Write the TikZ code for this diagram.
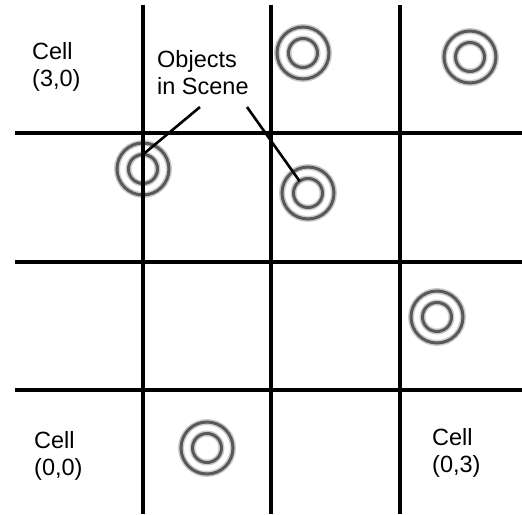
\documentclass[tikz,border=0pt]{standalone}
\usepackage{fontspec}
\setmainfont{Liberation Sans}

\begin{document}
\begin{tikzpicture}[x=1pt, y=-1pt,
	cellnote/.style={font=\fontsize{23.5}{27.5}\selectfont, align=left, inner sep=0pt, anchor=north west},
	ring/.style={circle, draw=black!65, line width=3pt, minimum size=29pt, inner sep=0pt, outer sep=0pt, preaction={draw=black!20, line width=6pt}},
	outring/.style={draw=black!65, line width=3pt, preaction={draw=black!20, line width=6pt}},
	gridline/.style={line width=3.2pt},
	leader/.style={line width=2.6pt}]
	\useasboundingbox (0,0) rectangle (522,514);
	% objects in the scene
	\foreach \n/\p in {o1/{303,53}, o2/{470,57}, o3/{143,169}, o4/{308,193}, o5/{437,317}, o6/{207,448}} {
		\node[ring] (\n) at (\p) {};
		\draw[outring] (\n.center) circle (26pt);
	}
	% cell grid
	\foreach \x in {143,271,400} \draw[gridline] (\x,5) -- (\x,514);
	\foreach \y in {133,262,390} \draw[gridline] (15,\y) -- (522,\y);
	\node[cellnote] (c30) at (32,42) {Cell\\(3,0)};
	\node[cellnote] (objs) at (157,50) {Objects\\in Scene};
	\node[cellnote] (c00) at (34,431) {Cell\\(0,0)};
	\node[cellnote] (c03) at (432,428) {Cell\\(0,3)};
	\coordinate (lead1) at (200,107);
	\coordinate (lead2) at (247,107);
	\draw[leader] (lead1) -- (o3.north);
	\draw[leader] (lead2) -- (o4);
\end{tikzpicture}
\end{document}
